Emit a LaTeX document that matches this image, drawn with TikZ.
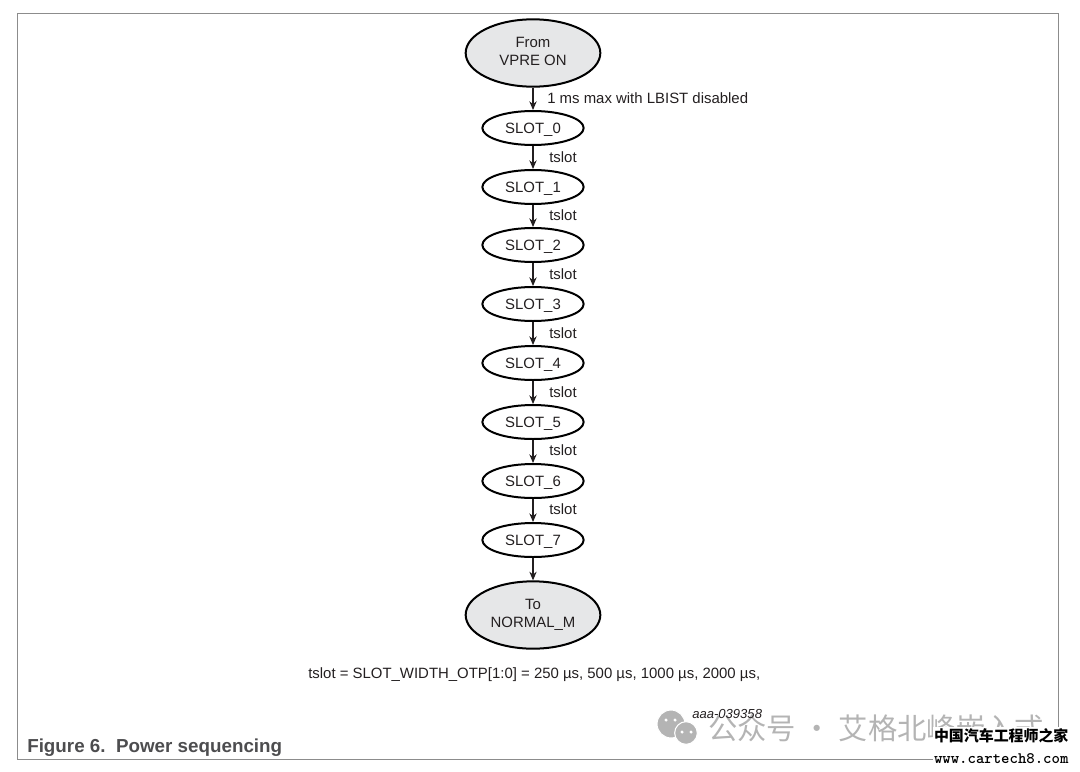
\documentclass[tikz,border=0pt]{standalone}
\usepackage{fontspec}
\setmainfont{Liberation Sans}
\newfontfamily\cjkfont{Noto Sans CJK SC}
\usetikzlibrary{arrows.meta,shapes.geometric}
\definecolor{figink}{HTML}{231F20}
\definecolor{capink}{HTML}{4D4D4F}
\definecolor{framegray}{HTML}{8C8C8C}
\definecolor{markgray}{HTML}{B4B4B4}
\definecolor{endfill}{HTML}{E6E7E8}

\begin{document}
\begin{tikzpicture}[
  x=0.75pt,
  y=-0.75pt,
  every node/.style={font=\fontsize{11.2}{13.5}\selectfont, text=figink},
  frameline/.style={framegray, line width=0.75pt},
  flow/.style={figink, line width=0.85pt, -{Stealth[length=6.5pt, width=5.5pt]}},
  slotstate/.style={ellipse, draw=black, line width=1.5pt, fill=white, text depth=0pt,
                    inner sep=0pt, minimum width=76pt, minimum height=25.5pt},
  endstate/.style={slotstate, fill=endfill, align=center, text depth=3pt,
                   minimum width=101pt, minimum height=50.5pt},
  delaylabel/.style={anchor=west, inner sep=0pt},
  markbubble/.style={circle, fill=markgray, draw=white, line width=0.8pt, inner sep=0pt},
  markeye/.style={circle, fill=white, inner sep=0pt, minimum size=2.6pt}
]
  \useasboundingbox (0,0) rectangle (1080,771);

  % ---- frame ----
  \draw[frameline] (17,13) rectangle (1058,759);

  % ---- states ----
  \node[endstate] (vpre) at (533,53) {From\\VPRE ON};
  \foreach \i/\y in {0/128, 1/187, 2/245, 3/304, 4/363, 5/422, 6/481, 7/540}
    \node[slotstate] (slot\i) at (533,\y) {SLOT\_\i};
  \node[endstate] (normal) at (533,615) {To\\NORMAL\_M};

  % ---- transitions ----
  \draw[flow] (vpre) -- (slot0);
  \foreach \i/\j in {0/1, 1/2, 2/3, 3/4, 4/5, 5/6, 6/7}
    \draw[flow] (slot\i) -- (slot\j);
  \draw[flow] (slot7) -- (normal);

  % ---- delay labels ----
  \node[delaylabel] (firstdelay) at (547,98) {1 ms max with LBIST disabled};
  \foreach \i/\y in {0/157, 1/215, 2/274, 3/333, 4/392, 5/450, 6/509}
    \node[delaylabel] (delay\i) at (549,\y) {tslot};

  % ---- note and caption ----
  \node[anchor=west, inner sep=0pt] (slotnote) at (308,675)
    {tslot = SLOT\_WIDTH\_OTP[1:0] = 250 µs, 500 µs, 1000 µs, 2000 µs,};
  \node[anchor=west, inner sep=0pt, text=capink, font=\fontsize{14.1}{16}\selectfont\bfseries]
    (caption) at (27,748) {Figure 6.\ \ Power sequencing};

  % ---- watermark ----
  \node[markbubble, minimum size=21pt] (bubbleA) at (671,724) {};
  \node[markbubble, minimum size=17pt] (bubbleB) at (686,733) {};
  \foreach \x/\y in {666/720, 675/720, 682/732, 691/732}
    \node[markeye] at (\x,\y) {};
  \node[anchor=west, inner sep=0pt, text=markgray, font=\fontsize{22}{26}\selectfont\cjkfont]
    (markline) at (708,728) {公众号 · 艾格北峰嵌入式};
  \node[anchor=west, inner sep=0pt, font=\fontsize{9.8}{12}\selectfont\itshape]
    (figid) at (692,714) {aaa-039358};
  \node[anchor=east, inner sep=1pt, fill=white, align=right, text=black,
        font=\fontsize{11.2}{16}\selectfont\cjkfont\bfseries]
    (sitemark) at (1070,746) {中国汽车工程师之家\\{\fontsize{12}{14}\selectfont\ttfamily www.cartech8.com}};
\end{tikzpicture}
\end{document}
